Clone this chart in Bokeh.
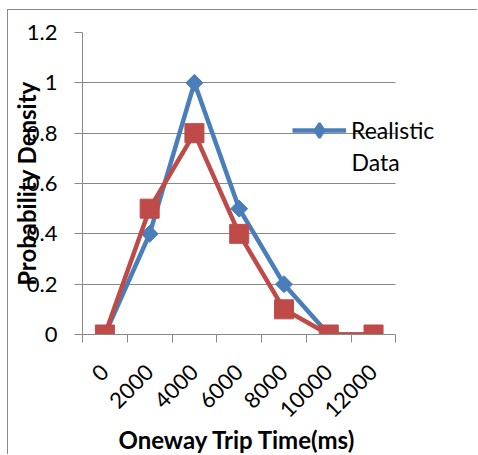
from math import pi, nan
from bokeh.plotting import figure
from bokeh.models import FixedTicker, Legend, LegendItem, Range1d, Label, Title
from bokeh.embed import file_html
from bokeh.resources import INLINE

categories = ["0", "2000", "4000", "6000", "8000", "10000", "12000"]
realistic = [0, 0.4, 1.0, 0.5, 0.2, 0, 0]
other = [0, 0.5, 0.8, 0.4, 0.1, 0, 0]
y_ticks = [0, 0.2, 0.4, 0.6, 0.8, 1.0, 1.2]
y_tick_labels = ["0", "0.2", "0.4", "0.6", "0.8", "1", "1.2"]
series_name = ["Realistic", "Data"]
x_title = "Oneway Trip Time(ms)"
y_title = "Probability Density"

BLUE = "#4A7EBB"
RED = "#BE4B48"
GRID = "#898989"
FONT = "Lato"

n = len(categories)
xs = [i + 0.5 for i in range(n)]

W, H = 470, 445
LEFT, TOP, AXIS_RIGHT, BOTTOM = 72, 22, 387, 121
# frame runs to the canvas edge so the legend text is not clipped;
# axis and gridlines stop at the last category boundary
x_end = n * (W - LEFT) / (AXIS_RIGHT - LEFT)

p = figure(width=W, height=H, output_backend="svg", toolbar_location=None,
           x_range=Range1d(0, x_end), y_range=Range1d(0, 1.2),
           min_border_left=LEFT, min_border_right=0, min_border_top=TOP,
           min_border_bottom=BOTTOM)
p.styles = {"margin-left": "7px", "margin-top": "9px",
            "border-left": "1px solid #898989", "border-top": "1px solid #898989"}
p.outline_line_color = None
p.background_fill_color = "white"
p.border_fill_color = "white"

p.xgrid.visible = False
p.ygrid.ticker = FixedTicker(ticks=y_ticks)
p.ygrid.grid_line_color = GRID
p.ygrid.grid_line_width = 1
p.ygrid.cross_bounds = (0, n)

xa = p.xaxis[0]
xa.bounds = (0, n)
xa.ticker = FixedTicker(ticks=xs, minor_ticks=list(range(n + 1)))
xa.major_label_overrides = {x: c for x, c in zip(xs, categories)}
xa.major_tick_out = 0
xa.major_tick_in = 0
xa.minor_tick_out = 8
xa.minor_tick_in = 0
xa.minor_tick_line_color = GRID
xa.axis_line_color = GRID
xa.major_label_orientation = pi / 4
xa.major_label_standoff = 26
xa.major_label_text_font = FONT
xa.major_label_text_font_size = "22px"
xa.major_label_text_color = "black"

# x-axis title placed under the category axis (not centred on the wider frame)
p.add_layout(Title(text=x_title, align="left", offset=36, standoff=-9,
                   text_font=FONT, text_font_style="bold", text_font_size="24px",
                   text_color="black"), "below")

ya = p.yaxis[0]
ya.ticker = FixedTicker(ticks=y_ticks)
ya.major_label_overrides = {t: s for t, s in zip(y_ticks, y_tick_labels)}
ya.major_tick_out = 8
ya.major_tick_in = 0
ya.major_tick_line_color = GRID
ya.minor_tick_line_color = None
ya.axis_line_color = GRID
ya.major_label_standoff = 17
ya.major_label_text_font = FONT
ya.major_label_text_font_size = "22px"
ya.major_label_text_color = "black"
ya.axis_label = y_title
ya.axis_label_text_font = FONT
ya.axis_label_text_font_style = "bold"
ya.axis_label_text_font_size = "24px"
ya.axis_label_text_color = "black"
ya.axis_label_standoff = -17

bl = p.line(xs, realistic, line_color=BLUE, line_width=4.5)
bm = p.scatter(xs, realistic, marker="square", angle=pi / 4, size=12,
               fill_color=BLUE, line_color=BLUE)
rl = p.line(xs, other, line_color=RED, line_width=4.5)
rm = p.scatter(xs, other, marker="square", size=19, fill_color=RED, line_color=RED)

# legend sample marker (diamond) for the blue series, nothing drawn in the plot
lg_marker = p.scatter([nan], [nan], marker="diamond", fill_color=BLUE,
                      line_color=BLUE, line_width=2.5)

LEG_X, LEG_Y, LEG_H = 210, 186, 36
legend = Legend(items=[LegendItem(label=series_name[0], renderers=[bl, lg_marker])],
                location=(LEG_X, LEG_Y), padding=0, margin=0, spacing=0,
                glyph_width=54, glyph_height=LEG_H, label_height=LEG_H,
                label_standoff=5, label_text_font=FONT,
                label_text_font_size="23px", label_text_color="black",
                border_line_color=None, background_fill_alpha=0)
p.add_layout(legend)

p.add_layout(Label(x=LEG_X + 54 + 5, y=LEG_Y + LEG_H / 2 - 31,
                   x_units="screen", y_units="screen",
                   text=series_name[1], text_font=FONT, text_font_size="23px",
                   text_color="black", text_baseline="middle", text_align="left"))

open("out.html", "w").write(file_html(p, INLINE))
